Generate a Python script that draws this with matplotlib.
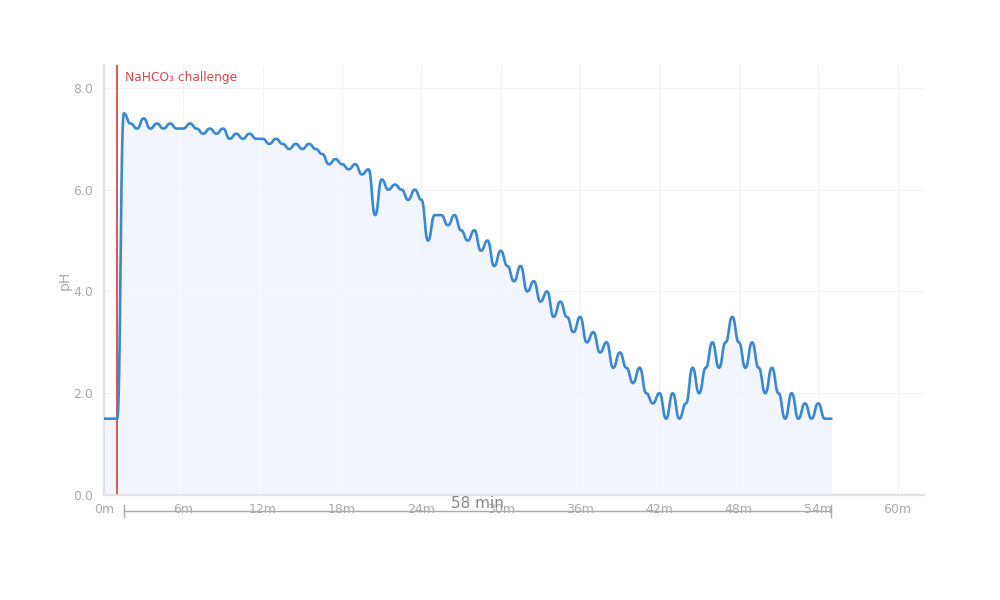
import numpy as np
import matplotlib
matplotlib.use('Agg')
import matplotlib.pyplot as plt
import matplotlib.transforms as mtransforms

# pH reading every 30 s (minutes)
minutes = np.arange(0, 55.5, 0.5)
ph = [1.5, 1.5, 1.5, 7.5, 7.3, 7.2, 7.4, 7.2, 7.3, 7.2,
      7.3, 7.2, 7.2, 7.3, 7.2, 7.1, 7.2, 7.1, 7.2, 7.0,
      7.1, 7.0, 7.1, 7.0, 7.0, 6.9, 7.0, 6.9, 6.8, 6.9,
      6.8, 6.9, 6.8, 6.7, 6.5, 6.6, 6.5, 6.4, 6.5, 6.3,
      6.4, 5.5, 6.2, 6.0, 6.1, 6.0, 5.8, 6.0, 5.8, 5.0,
      5.5, 5.5, 5.3, 5.5, 5.2, 5.0, 5.2, 4.8, 5.0, 4.5,
      4.8, 4.5, 4.2, 4.5, 4.0, 4.2, 3.8, 4.0, 3.5, 3.8,
      3.5, 3.2, 3.5, 3.0, 3.2, 2.8, 3.0, 2.5, 2.8, 2.5,
      2.2, 2.5, 2.0, 1.8, 2.0, 1.5, 2.0, 1.5, 1.8, 2.5,
      2.0, 2.5, 3.0, 2.5, 3.0, 3.5, 3.0, 2.5, 3.0, 2.5,
      2.0, 2.5, 2.0, 1.5, 2.0, 1.5, 1.8, 1.5, 1.8, 1.5,
      1.5]

challenge_at = 1.0
challenge_label = 'NaHCO\u2083 challenge'
span_start, span_end = 1.5, 55.0
span_label = '58 min'

x_ticks = list(range(0, 61, 6))
x_ticklabels = ['%dm' % m for m in x_ticks]
y_ticks = [0, 2, 4, 6, 8]
y_ticklabels = ['0.0', '2.0', '4.0', '6.0', '8.0']


def bump_curve(x, y, n=30):
    # bezier "bump" curve: flat tangent at every point
    xs, ys = [], []
    for i in range(len(x) - 1):
        x0, x1 = x[i], x[i + 1]
        y0, y1 = y[i], y[i + 1]
        xm = (x0 + x1) / 2
        u = np.linspace(0, 1, n, endpoint=False)
        a = (1 - u)**3
        b = 3 * (1 - u)**2 * u
        c = 3 * (1 - u) * u**2
        d = u**3
        xs.append(a * x0 + b * xm + c * xm + d * x1)
        ys.append(a * y0 + b * y0 + c * y1 + d * y1)
    xs.append([x[-1]])
    ys.append([y[-1]])
    return np.concatenate(xs), np.concatenate(ys)


fig = plt.figure(figsize=(10, 6), dpi=100)
ax = fig.add_axes([0.104, 0.175, 0.82, 0.7167])

cx, cy = bump_curve(minutes, ph)
ax.fill_between(cx, cy, 0, color='#eef4fb', alpha=0.75, linewidth=0, zorder=1)
ax.axvline(challenge_at, color='#d9474a', linewidth=1.3, zorder=2)
ax.plot(cx, cy, color='#3a87d4', linewidth=1.9, zorder=3, solid_capstyle='round')

ax.set_xlim(0, 62)
ax.set_ylim(0, 8.45)
ax.set_xticks(x_ticks)
ax.set_xticklabels(x_ticklabels)
ax.set_yticks(y_ticks)
ax.set_yticklabels(y_ticklabels)
ax.tick_params(length=0, colors='#aaaaaa', labelsize=9)
ax.tick_params(axis='x', pad=6)
ax.tick_params(axis='y', pad=8)
ax.grid(True, color='#f3f3f3', linewidth=0.8)
ax.set_axisbelow(True)
for side in ['top', 'right']:
    ax.spines[side].set_visible(False)
for side in ['left', 'bottom']:
    ax.spines[side].set_color('#e3e3e3')
    ax.spines[side].set_linewidth(1.6)
ax.set_ylabel('pH', color='#aaaaaa', fontsize=10, labelpad=1)

ax.text(challenge_at + 0.6, 8.21, challenge_label, color='#d9474a', fontsize=8.8,
        va='center', ha='left')

# duration bracket under the axis
trans = mtransforms.blended_transform_factory(ax.transData, ax.transAxes)
yb = -16 / 430.0
ax.plot([span_start, span_end], [yb, yb], color='#aaaaaa', linewidth=1,
        transform=trans, clip_on=False)
for xe in (span_start, span_end):
    ax.plot([xe, xe], [yb - 6 / 430.0, yb + 6 / 430.0], color='#aaaaaa',
            linewidth=1, transform=trans, clip_on=False)
ax.text((span_start + span_end) / 2, -8 / 430.0, span_label, color='#888888',
        fontsize=11, ha='center', va='center', transform=trans)

fig.savefig('out.png', dpi=100)
